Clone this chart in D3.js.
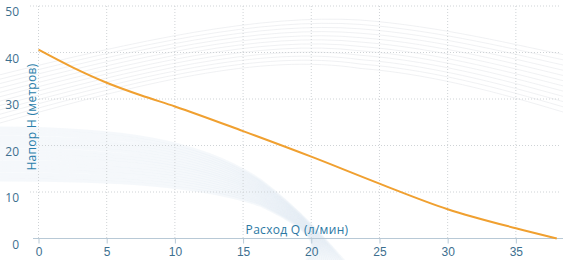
<!DOCTYPE html>
<meta charset="utf-8">
<style>
  body { margin: 0; background: #fff; }
  svg { display: block; font-family: "Open Sans", "DejaVu Sans", sans-serif; }
</style>
<body>
<svg></svg>
<script src="https://d3js.org/d3.v7.min.js"></script>
<script>

// pump curve: flow Q (l/min) -> head H (m)
var flow = [0, 2.5, 5, 7.5, 10, 15, 20, 25, 30, 35, 38];
var head = [40.6, 36.8, 33.5, 30.8, 28.4, 23.1, 17.6, 11.8, 6.3, 2.2, 0];
var xTicks = [0, 5, 10, 15, 20, 25, 30, 35];
var yTicks = [0, 10, 20, 30, 40, 50];
var xTitle = "Расход Q (л/мин)";
var yTitle = "Напор H (метров)";

var width = 563, height = 260;

var svg = d3.select('svg')
    .attr('width', width)
    .attr('height', height);

var x = d3.scaleLinear().domain([0, 38.2]).range([38.5, 559.5]);
var y = d3.scaleLinear().domain([0, 50]).range([238.5, 6]);

// decorative background swooshes
var deco = svg.append('g');
for (var i = 0; i < 12; i++) {
    var p = d3.path();
    var o = i * 4.4;
    p.moveTo(-5, 76 + o);
    p.bezierCurveTo(140, 40 + o * 0.9, 260, 14 + o * 0.8, 360, 20 + o);
    p.bezierCurveTo(440, 26 + o, 520, 46 + o * 1.1, 570, 56 + o * 1.2);
    deco.append('path').attr('d', p.toString())
        .attr('fill', 'none').attr('stroke', '#eceef0').attr('stroke-width', 0.8);
}
for (var j = 0; j < 18; j++) {
    var q = d3.path();
    var t = j / 17;
    q.moveTo(-5, 128 + t * 52);
    q.bezierCurveTo(120, 128 + t * 52, 200, 140 + t * 45, 260, 180 + t * 25);
    q.bezierCurveTo(300, 210 + t * 15, 330, 245 - t * 5, 350 - t * 50, 268);
    deco.append('path').attr('d', q.toString())
        .attr('fill', 'none').attr('stroke', '#e2ecf4').attr('stroke-width', 3)
        .attr('opacity', 0.35);
}

// grid
svg.append('g').selectAll('line').data(yTicks.filter(function (d) { return d > 0; }))
    .enter().append('line')
    .attr('x1', 30).attr('x2', 560)
    .attr('y1', function (d) { return y(d); }).attr('y2', function (d) { return y(d); })
    .attr('stroke', '#cfd3d6').attr('stroke-dasharray', '1,2');

svg.append('g').selectAll('line').data(xTicks)
    .enter().append('line')
    .attr('x1', function (d) { return x(d); }).attr('x2', function (d) { return x(d); })
    .attr('y1', y(50)).attr('y2', y(0))
    .attr('stroke', '#cfd3d6').attr('stroke-dasharray', '1,2');

// x axis
var xAxis = svg.append('g')
    .attr('transform', 'translate(0,' + y(0) + ')')
    .call(d3.axisBottom(x).tickValues(xTicks).tickSize(5).tickPadding(4));
xAxis.select('.domain').attr('stroke', '#b8c9d6').attr('d', 'M33,0H563');
xAxis.selectAll('.tick line').attr('stroke', '#b8c9d6');
xAxis.selectAll('text').attr('fill', '#3d6f8f').attr('font-size', 12);

// y labels
svg.append('g').selectAll('text').data(yTicks)
    .enter().append('text')
    .attr('x', 19)
    .attr('y', function (d) { return y(d) + 10; })
    .attr('text-anchor', 'end')
    .attr('fill', '#3d6f8f')
    .attr('font-size', 12)
    .text(function (d) { return d; });

// titles
svg.append('text')
    .attr('x', 297).attr('y', 234)
    .attr('text-anchor', 'middle')
    .attr('fill', '#2b78a3')
    .attr('font-size', 12)
    .attr('letter-spacing', 0.3)
    .text(xTitle);

svg.append('text')
    .attr('transform', 'translate(36,117)rotate(-90)')
    .attr('text-anchor', 'middle')
    .attr('fill', '#2b7fab')
    .attr('font-size', 12)
    .attr('letter-spacing', 0.3)
    .text(yTitle);

// curve
var line = d3.line()
    .x(function (d, i) { return x(flow[i]); })
    .y(function (d) { return y(d); })
    .curve(d3.curveMonotoneX);

svg.append('path')
    .datum(head)
    .attr('d', line)
    .attr('fill', 'none')
    .attr('stroke', '#f0a030')
    .attr('stroke-width', 2);

</script>
</body>
